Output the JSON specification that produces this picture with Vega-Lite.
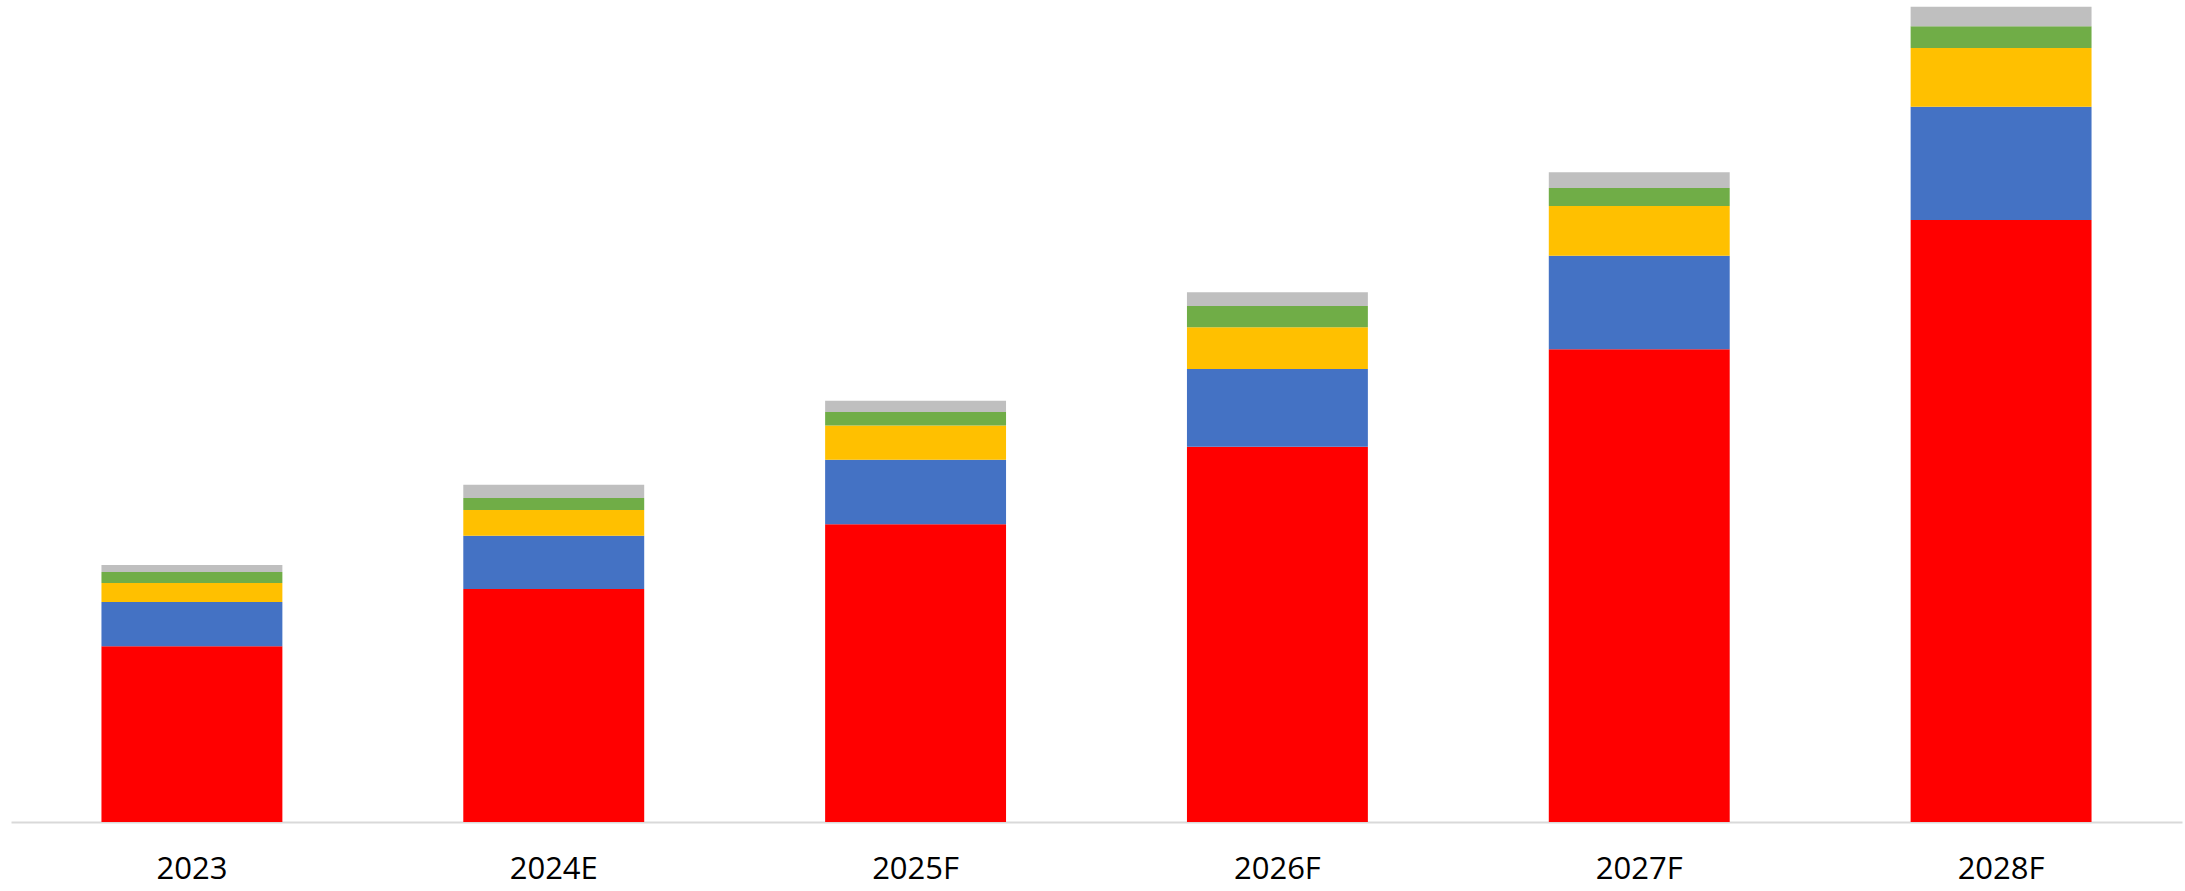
{
  "$schema": "https://vega.github.io/schema/vega-lite/v6.json",
  "width": 2171,
  "height": 822,
  "autosize": "none",
  "padding": {"left": 11, "top": 0, "right": 3, "bottom": 69},
  "background": "white",
  "data": {
    "values": [
      {"year": "2023", "series": "S1", "value": 175.7},
      {"year": "2023", "series": "S2", "value": 44.3},
      {"year": "2023", "series": "S3", "value": 19.0},
      {"year": "2023", "series": "S4", "value": 11.0},
      {"year": "2023", "series": "S5", "value": 7.0},
      {"year": "2024E", "series": "S1", "value": 233.0},
      {"year": "2024E", "series": "S2", "value": 53.3},
      {"year": "2024E", "series": "S3", "value": 25.7},
      {"year": "2024E", "series": "S4", "value": 12.0},
      {"year": "2024E", "series": "S5", "value": 13.3},
      {"year": "2025F", "series": "S1", "value": 297.7},
      {"year": "2025F", "series": "S2", "value": 64.6},
      {"year": "2025F", "series": "S3", "value": 34.2},
      {"year": "2025F", "series": "S4", "value": 13.5},
      {"year": "2025F", "series": "S5", "value": 11.3},
      {"year": "2026F", "series": "S1", "value": 375.3},
      {"year": "2026F", "series": "S2", "value": 77.7},
      {"year": "2026F", "series": "S3", "value": 41.7},
      {"year": "2026F", "series": "S4", "value": 21.3},
      {"year": "2026F", "series": "S5", "value": 13.7},
      {"year": "2027F", "series": "S1", "value": 472.7},
      {"year": "2027F", "series": "S2", "value": 93.6},
      {"year": "2027F", "series": "S3", "value": 49.7},
      {"year": "2027F", "series": "S4", "value": 18.0},
      {"year": "2027F", "series": "S5", "value": 15.7},
      {"year": "2028F", "series": "S1", "value": 602.0},
      {"year": "2028F", "series": "S2", "value": 113.3},
      {"year": "2028F", "series": "S3", "value": 58.7},
      {"year": "2028F", "series": "S4", "value": 21.7},
      {"year": "2028F", "series": "S5", "value": 19.6}
    ]
  },
  "mark": {"type": "bar"},
  "encoding": {
    "x": {
      "field": "year",
      "type": "nominal",
      "sort": null,
      "scale": {"paddingInner": 0.5, "paddingOuter": 0.25},
      "axis": {
        "title": null,
        "labelAngle": 0,
        "labelFont": "Open Sans",
        "labelFontSize": 31,
        "labelColor": "#000000",
        "labelPadding": 32,
        "ticks": false,
        "domainColor": "#d9d9d9",
        "domainWidth": 2
      }
    },
    "y": {
      "field": "value",
      "type": "quantitative",
      "stack": "zero",
      "scale": {"domain": [0, 822], "nice": false, "zero": true},
      "axis": null
    },
    "color": {
      "field": "series",
      "type": "nominal",
      "scale": {
        "domain": ["S1", "S2", "S3", "S4", "S5"],
        "range": ["#FF0000", "#4472C4", "#FFC000", "#70AD47", "#BFBFBF"]
      },
      "legend": null
    },
    "order": {"field": "series", "sort": "ascending"}
  },
  "config": {"view": {"stroke": null}}
}
